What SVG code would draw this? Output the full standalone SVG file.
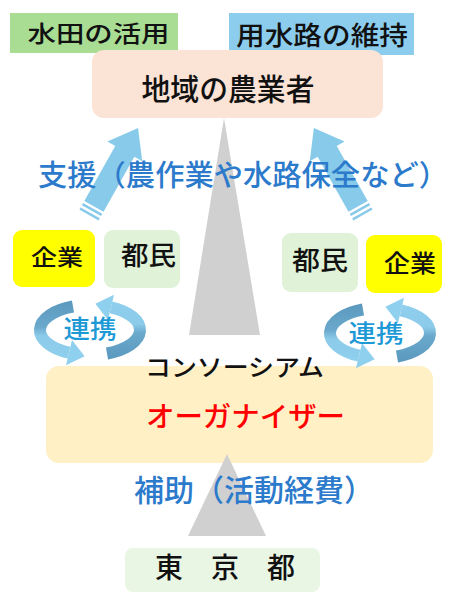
<svg xmlns="http://www.w3.org/2000/svg" width="450" height="600" viewBox="0 0 450 600">
<style>
text{font-family:"Noto Sans CJK JP","Noto Sans",sans-serif;font-weight:500;}
.blk{fill:#111;}
.blue{fill:#2b7acb;}
.cyan{fill:#1d99d6;}
.tri{fill:#d0d0d0;}
.arw{fill:#88caea;}
</style>
<defs>
<linearGradient id="cg" gradientUnits="userSpaceOnUse" x1="0" y1="-30" x2="0" y2="30">
<stop offset="0" stop-color="#5a98bd"/>
<stop offset="0.45" stop-color="#6aa9cc"/>
<stop offset="0.6" stop-color="#8ccbe9"/>
<stop offset="1" stop-color="#8fd0ee"/>
</linearGradient>
<g id="half">
<path d="M-17,-23.5 A50,25 0 0 0 -21,22.7" fill="none" stroke="url(#cg)" stroke-width="12"/>
<polygon points="-24,35.3 -5.4,26.3 -18,9.9" fill="#8fd0ee"/>
</g>
<g id="cycle">
<use href="#half"/>
<use href="#half" transform="rotate(180)"/>
</g>
<g id="sup">
<rect x="0" y="-11" width="2.5" height="22"/>
<rect x="5" y="-11" width="2.5" height="22"/>
<rect x="10" y="-11" width="65" height="22"/>
<polygon points="73,-20 100,0 73,20"/>
</g>
</defs>
<rect width="450" height="600" fill="#fff"/>

<g id="suiden">
<rect x="10" y="13" width="168" height="40" fill="#a9dd94"/>
<text class="blk" x="27.5" y="41.5" font-size="23" textLength="142" lengthAdjust="spacingAndGlyphs">水田の活用</text>
</g>
<g id="yousuiro">
<rect x="229" y="13" width="185" height="42" fill="#8ccdee"/>
<text class="blk" x="236" y="45" font-size="26.5" textLength="172" lengthAdjust="spacingAndGlyphs">用水路の維持</text>
</g>
<g id="nougyousha">
<rect x="92" y="50" width="291" height="68" rx="12" fill="#fbe3d6"/>
<text class="blk" x="141.5" y="100" font-size="30" textLength="173" lengthAdjust="spacingAndGlyphs">地域の農業者</text>
</g>
<g id="kigyou-l">
<rect x="13" y="230" width="82" height="57" rx="9" fill="#ffff00"/>
<text class="blk" x="31" y="265" font-size="22" textLength="52" lengthAdjust="spacingAndGlyphs">企業</text>
</g>
<g id="tomin-l">
<rect x="104" y="230" width="76" height="58" rx="9" fill="#e0f2d8"/>
<text class="blk" x="121" y="265" font-size="26" textLength="55" lengthAdjust="spacingAndGlyphs">都民</text>
</g>
<g id="tomin-r">
<rect x="282" y="233" width="76" height="59" rx="9" fill="#e0f2d8"/>
<text class="blk" x="292" y="270" font-size="26" textLength="56" lengthAdjust="spacingAndGlyphs">都民</text>
</g>
<g id="kigyou-r">
<rect x="366" y="235" width="76" height="58" rx="9" fill="#ffff00"/>
<text class="blk" x="384" y="272" font-size="24" textLength="52" lengthAdjust="spacingAndGlyphs">企業</text>
</g>
<g id="organizer">
<rect x="46" y="366" width="387" height="97" rx="13" fill="#fff0c6"/>
<text class="blk" x="145" y="375.5" font-size="24" textLength="179" lengthAdjust="spacingAndGlyphs">コンソーシアム</text>
<text x="146" y="427" font-size="28" fill="#ff0000" textLength="199" lengthAdjust="spacingAndGlyphs">オーガナイザー</text>
</g>
<g id="tokyo">
<rect x="125" y="548" width="195" height="44" rx="8" fill="#eaf6e4"/>
<text class="blk" x="225" y="578" text-anchor="middle" font-size="28">東　京　都</text>
</g>

<g id="connectors">
<polygon class="tri" points="224,118 260,335 189,335"/>
<polygon class="tri" points="227,454 266,536 188,536"/>
<use href="#sup" class="arw" transform="translate(89,215) rotate(-60.6)"/>
<use href="#sup" class="arw" transform="translate(452,0) scale(-1,1) translate(89,215) rotate(-60.6)"/>
<use href="#cycle" transform="translate(90,330)"/>
<use href="#cycle" transform="translate(380,333)"/>
<text class="blue" x="38" y="186" font-size="29" textLength="410" lengthAdjust="spacingAndGlyphs">支援（農作業や水路保全など）</text>
<text class="cyan" x="63.5" y="338" font-size="25.5" textLength="53" lengthAdjust="spacingAndGlyphs">連携</text>
<text class="cyan" x="348.5" y="342" font-size="24" textLength="55" lengthAdjust="spacingAndGlyphs">連携</text>
<text class="blue" x="134" y="501" font-size="30" textLength="240" lengthAdjust="spacingAndGlyphs">補助（活動経費）</text>
</g>
</svg>
